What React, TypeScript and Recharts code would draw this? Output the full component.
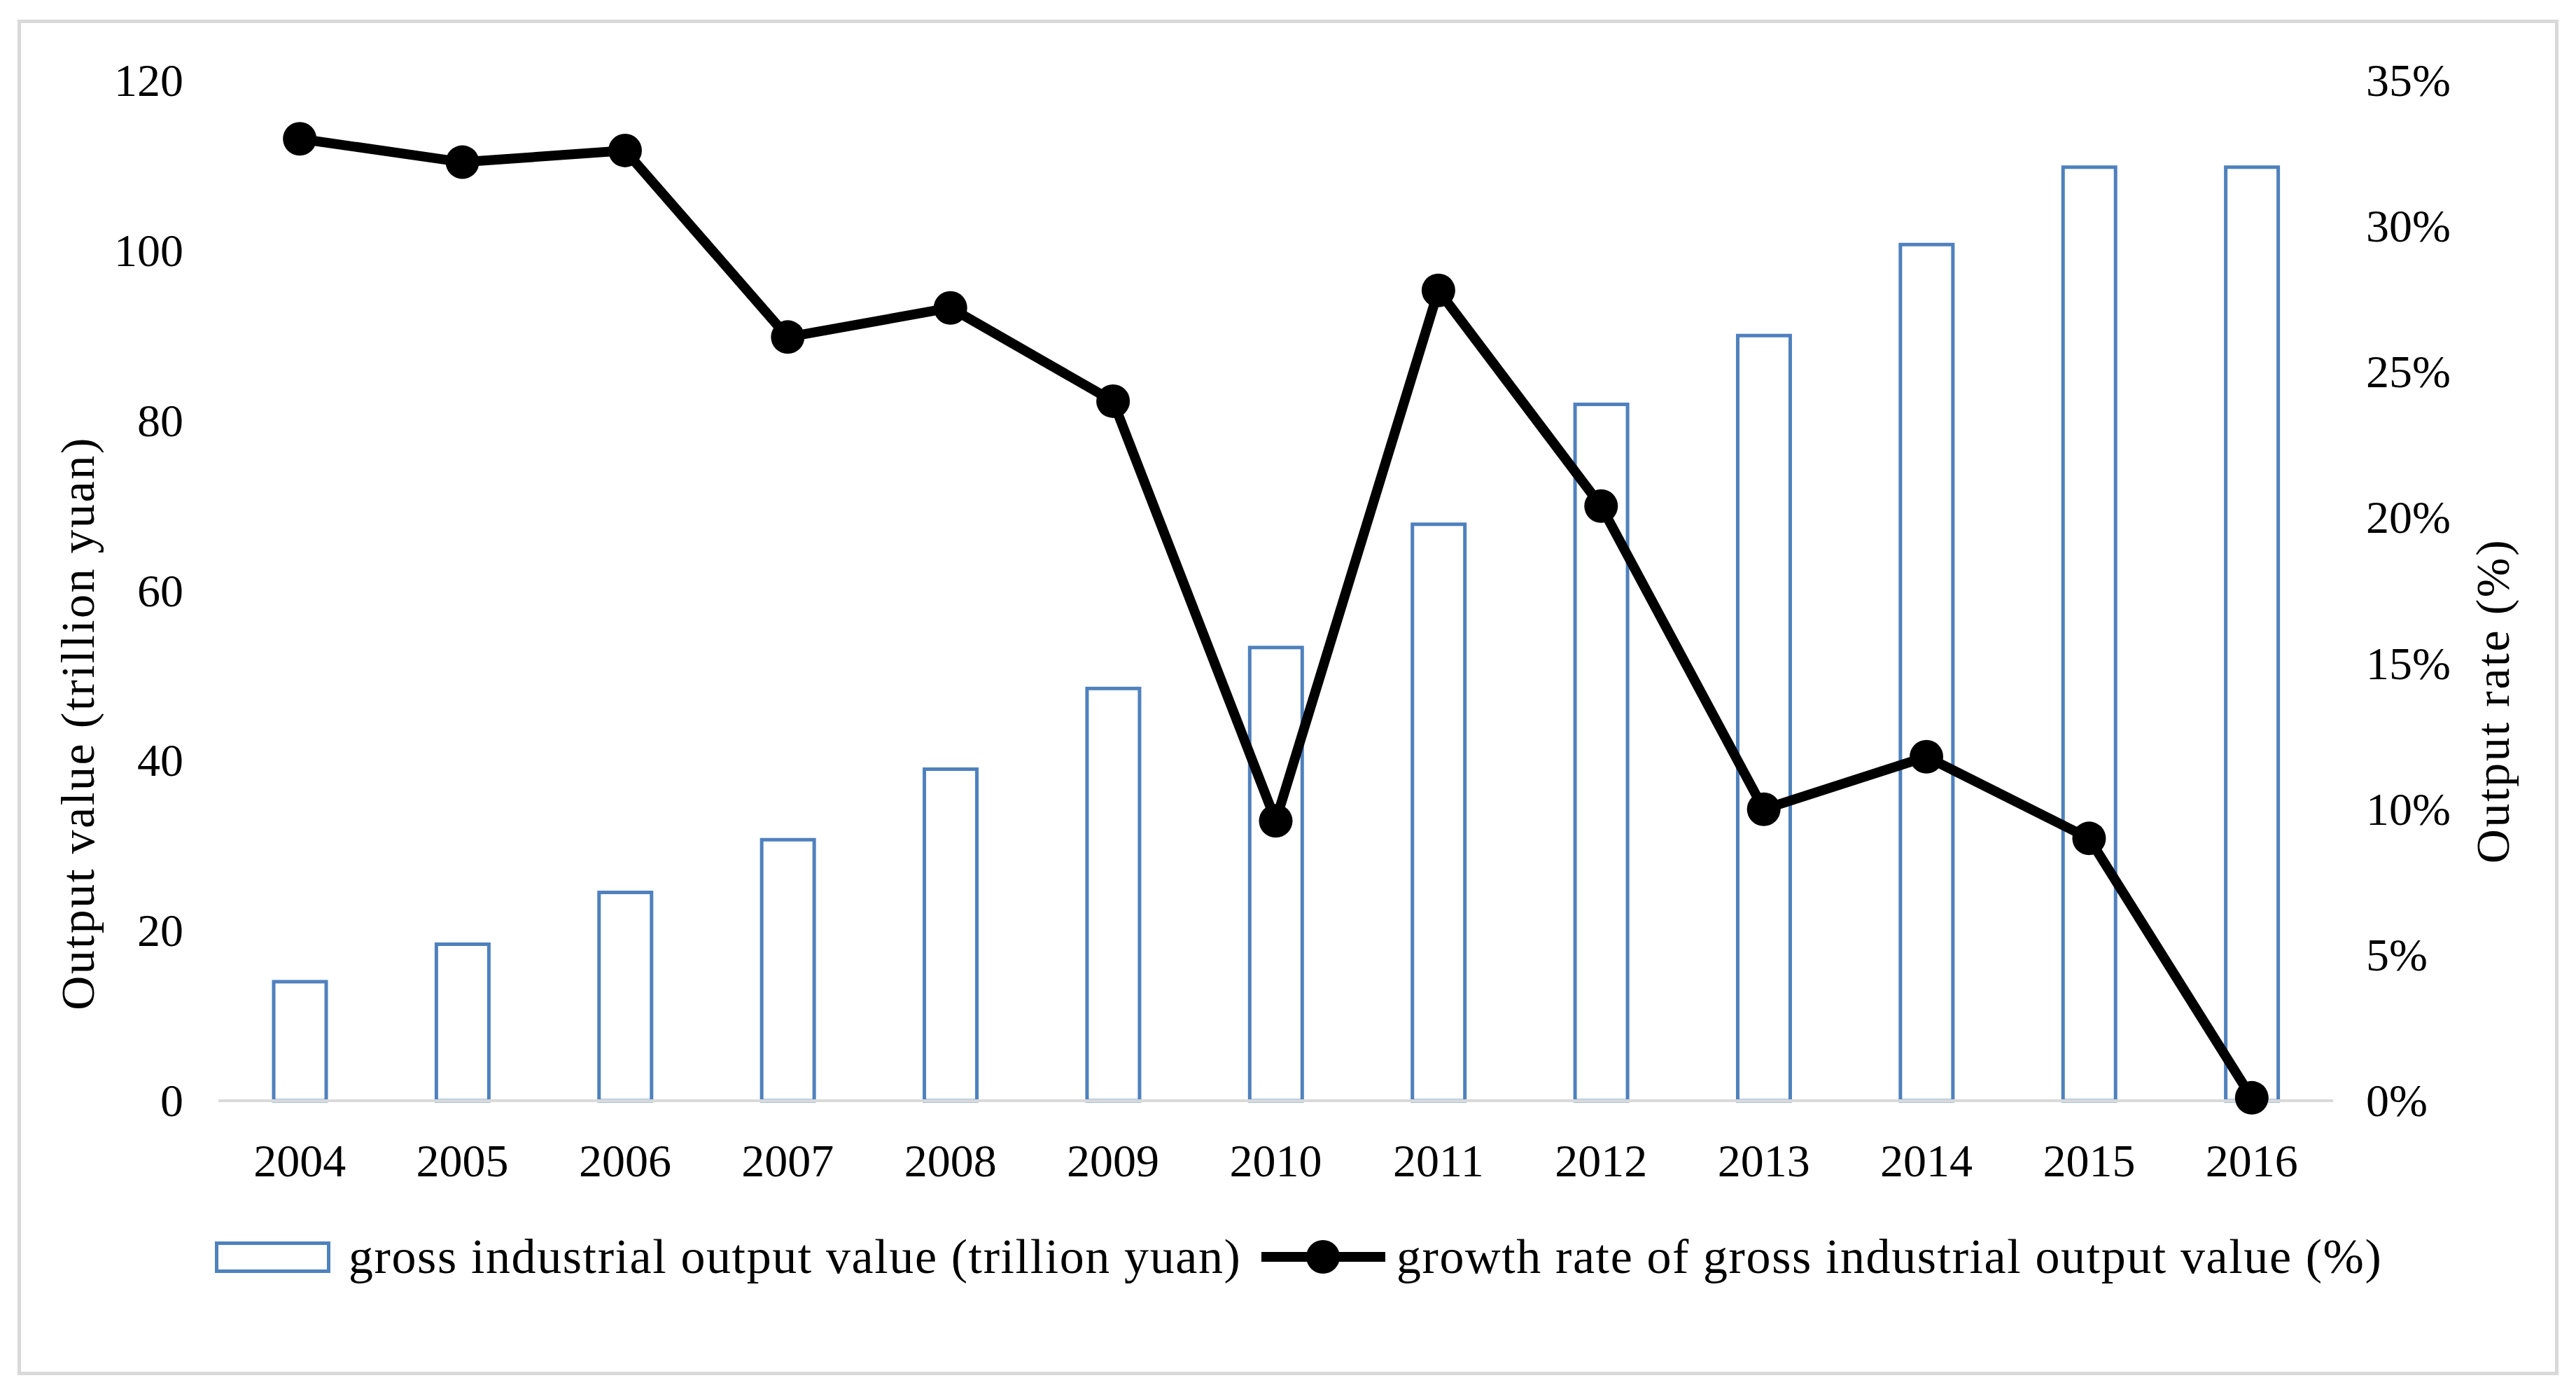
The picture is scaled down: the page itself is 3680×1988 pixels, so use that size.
import React from 'react';
import { ComposedChart, Bar, Line, XAxis, YAxis, Legend } from 'recharts';

const years = ['2004', '2005', '2006', '2007', '2008', '2009', '2010', '2011', '2012', '2013', '2014', '2015', '2016'];
const outputValue = [14.0, 18.4, 24.5, 30.7, 39.0, 48.5, 53.3, 67.8, 81.9, 90.0, 100.7, 109.8, 109.8];
const growthRate = [33.0, 32.2, 32.6, 26.2, 27.2, 24.0, 9.6, 27.8, 20.4, 10.0, 11.8, 9.0, 0.1];
const leftTicks = [0, 20, 40, 60, 80, 100, 120];
const rightTicks = [0, 5, 10, 15, 20, 25, 30, 35];

const barName = 'gross industrial output value (trillion yuan)';
const lineName = 'growth rate of gross industrial output value (%)';
const leftTitle = 'Output value (trillion yuan)';
const rightTitle = 'Output rate (%)';

const data = years.map((year, i) => ({ year, value: outputValue[i], rate: growthRate[i] }));

const FONT = '"Liberation Serif", "Times New Roman", serif';
const TEXT = '#000000';
const BLUE = '#4f81bd';

const XTick = (props: any) => {
  const { x, y, payload } = props;
  return (
    <text x={x} y={y + 108} textAnchor="middle" fontFamily={FONT} fontSize={66} fill={TEXT}>
      {payload.value}
    </text>
  );
};

const LeftTick = (props: any) => {
  const { x, y, payload } = props;
  return (
    <text x={x - 50} y={y + 22} textAnchor="end" fontFamily={FONT} fontSize={66} fill={TEXT}>
      {payload.value}
    </text>
  );
};

const RightTick = (props: any) => {
  const { x, y, payload } = props;
  return (
    <text x={x + 47} y={y + 22} textAnchor="start" fontFamily={FONT} fontSize={66} fill={TEXT}>
      {`${payload.value}%`}
    </text>
  );
};

const LeftTitle = (props: any) => {
  const vb = props.viewBox || { x: 0, y: 0 };
  const cx = vb.x + 134;
  const cy = vb.y + 918;
  return (
    <text
      x={cx}
      y={cy}
      transform={`rotate(-90 ${cx} ${cy})`}
      textAnchor="middle"
      fontFamily={FONT}
      fontSize={68}
      letterSpacing={2.5}
      fill={TEXT}
    >
      {leftTitle}
    </text>
  );
};

const RightTitle = (props: any) => {
  const vb = props.viewBox || { x: 0, y: 0 };
  const cx = vb.x + 251;
  const cy = vb.y + 886;
  return (
    <text
      x={cx}
      y={cy}
      transform={`rotate(-90 ${cx} ${cy})`}
      textAnchor="middle"
      fontFamily={FONT}
      fontSize={68}
      letterSpacing={2.5}
      fill={TEXT}
    >
      {rightTitle}
    </text>
  );
};

const LegendContent = () => {
  const textStyle: React.CSSProperties = {
    position: 'absolute',
    top: 0,
    height: 110,
    lineHeight: '110px',
    fontFamily: FONT,
    fontSize: 70,
    color: TEXT,
    whiteSpace: 'nowrap',
    letterSpacing: 1.6,
  };
  return (
    <div style={{ position: 'relative', width: 3680, height: 110 }}>
      <div
        style={{
          position: 'absolute',
          left: 307,
          top: 33,
          width: 165,
          height: 45,
          border: `5px solid ${BLUE}`,
          boxSizing: 'border-box',
          background: '#fff',
        }}
      />
      <div style={{ ...textStyle, left: 498 }}>{barName}</div>
      <svg style={{ position: 'absolute', left: 1802, top: 0 }} width={177} height={110}>
        <line x1={0} y1={55} x2={177} y2={55} stroke="#000" strokeWidth={14} />
        <circle cx={88} cy={55} r={24} fill="#000" />
      </svg>
      <div style={{ ...textStyle, left: 1995 }}>{lineName}</div>
    </div>
  );
};

export default function App() {
  return (
    <div style={{ position: 'absolute', left: 0, top: 0, width: 3680, height: 1988, background: '#fff' }}>
      <div
        style={{
          position: 'absolute',
          left: 25,
          top: 28,
          width: 3630,
          height: 1936,
          border: '5px solid #d9d9d9',
          boxSizing: 'border-box',
        }}
      />
      <div style={{ position: 'absolute', left: 0, top: 0 }}>
        <ComposedChart
          width={3680}
          height={1988}
          data={data}
          margin={{ top: 115, right: 0, bottom: 316, left: 0 }}
          barCategoryGap="0%"
        >
          <XAxis
            dataKey="year"
            height={100}
            axisLine={{ stroke: '#d9d9d9', strokeWidth: 4 }}
            tickLine={false}
            tickSize={0}
            tickMargin={0}
            tick={<XTick />}
            interval={0}
          />
          <YAxis
            yAxisId="left"
            orientation="left"
            width={312}
            domain={[0, 120]}
            ticks={leftTicks}
            axisLine={false}
            tickLine={false}
            tickSize={0}
            tickMargin={0}
            tick={<LeftTick />}
            label={<LeftTitle />}
          />
          <YAxis
            yAxisId="right"
            orientation="right"
            width={347}
            domain={[0, 35]}
            ticks={rightTicks}
            axisLine={false}
            tickLine={false}
            tickSize={0}
            tickMargin={0}
            tick={<RightTick />}
            label={<RightTitle />}
          />
          <Bar
            yAxisId="left"
            dataKey="value"
            name={barName}
            fill="#ffffff"
            stroke={BLUE}
            strokeWidth={5}
            barSize={75}
            isAnimationActive={false}
          />
          <Line
            yAxisId="right"
            dataKey="rate"
            name={lineName}
            type="linear"
            stroke="#000000"
            strokeWidth={14}
            dot={{ r: 24, fill: '#000000', stroke: '#000000', strokeWidth: 0 }}
            activeDot={false}
            isAnimationActive={false}
          />
          <Legend
            layout="horizontal"
            align="center"
            verticalAlign="middle"
            wrapperStyle={{ left: 0, top: 1740, width: 3680, height: 110 }}
            content={<LegendContent />}
          />
        </ComposedChart>
      </div>
    </div>
  );
}
